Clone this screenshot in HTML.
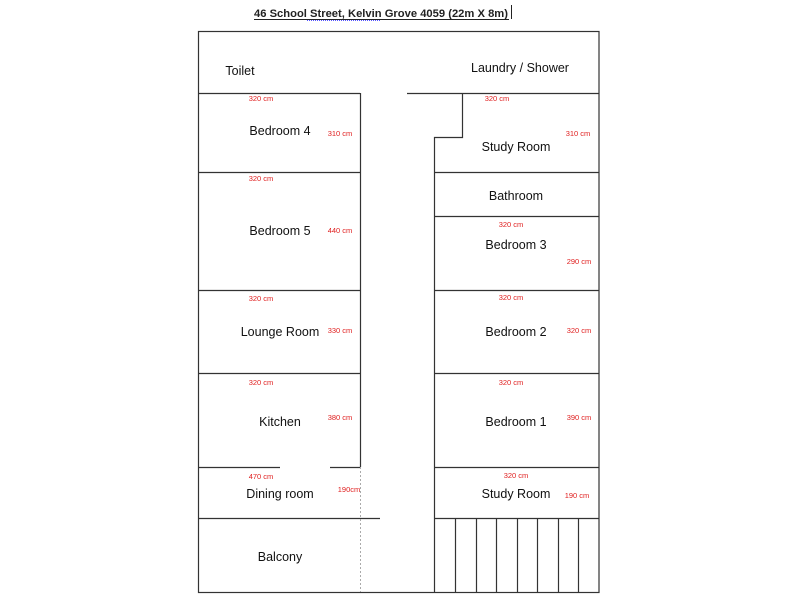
<!DOCTYPE html>
<html><head><style>body{margin:0;background:#fff}svg{display:block}</style></head><body>
<svg width="800" height="600" xmlns="http://www.w3.org/2000/svg" font-family="Liberation Sans, sans-serif">
<rect width="800" height="600" fill="#fff"/>
<text x="254" y="17" font-size="11" font-weight="bold" fill="#222" textLength="254" lengthAdjust="spacingAndGlyphs">46 School Street,  Kelvin Grove 4059  (22m X 8m)</text>
<line x1="254" y1="19.5" x2="509" y2="19.5" stroke="#222" stroke-width="1"/>
<line x1="511.5" y1="5" x2="511.5" y2="19" stroke="#222" stroke-width="1"/>
<line x1="307" y1="20.5" x2="381" y2="20.5" stroke="#55f" stroke-width="1" stroke-dasharray="1,1"/>
<g stroke="#333" stroke-width="1.2" fill="none">
<rect x="198.5" y="31.5" width="400.5" height="561"/>
<line x1="198" y1="93.5" x2="360" y2="93.5"/>
<line x1="360.5" y1="93" x2="360.5" y2="467"/>
<line x1="198" y1="172.5" x2="360" y2="172.5"/>
<line x1="198" y1="290.5" x2="360" y2="290.5"/>
<line x1="198" y1="373.5" x2="360" y2="373.5"/>
<line x1="198" y1="467.5" x2="280" y2="467.5"/>
<line x1="330" y1="467.5" x2="360" y2="467.5"/>
<line x1="198" y1="518.5" x2="380" y2="518.5"/>
<line x1="407" y1="93.5" x2="599" y2="93.5"/>
<polyline points="462.5,93 462.5,137.5 434.5,137.5 434.5,592"/>
<line x1="434" y1="172.5" x2="599" y2="172.5"/>
<line x1="434" y1="216.5" x2="599" y2="216.5"/>
<line x1="434" y1="290.5" x2="599" y2="290.5"/>
<line x1="434" y1="373.5" x2="599" y2="373.5"/>
<line x1="434" y1="467.5" x2="599" y2="467.5"/>
<line x1="434" y1="518.5" x2="599" y2="518.5"/>
<line x1="455.5" y1="518" x2="455.5" y2="592"/>
<line x1="476.5" y1="518" x2="476.5" y2="592"/>
<line x1="496.5" y1="518" x2="496.5" y2="592"/>
<line x1="517.5" y1="518" x2="517.5" y2="592"/>
<line x1="537.5" y1="518" x2="537.5" y2="592"/>
<line x1="558.5" y1="518" x2="558.5" y2="592"/>
<line x1="578.5" y1="518" x2="578.5" y2="592"/>
</g>
<line x1="360.5" y1="467" x2="360.5" y2="592" stroke="#aaa" stroke-width="1" stroke-dasharray="2,2"/>
<g font-size="12.5" fill="#111" text-anchor="middle">
<text x="240" y="75">Toilet</text>
<text x="520" y="72">Laundry / Shower</text>
<text x="280" y="135">Bedroom 4</text>
<text x="516" y="151">Study Room</text>
<text x="516" y="200">Bathroom</text>
<text x="280" y="235">Bedroom 5</text>
<text x="516" y="249">Bedroom 3</text>
<text x="280" y="336">Lounge Room</text>
<text x="516" y="336">Bedroom 2</text>
<text x="280" y="426">Kitchen</text>
<text x="516" y="426">Bedroom 1</text>
<text x="280" y="498">Dining room</text>
<text x="516" y="498">Study Room</text>
<text x="280" y="561">Balcony</text>
</g>
<g font-size="7.5" fill="#e02020" text-anchor="middle">
<text x="261" y="101">320 cm</text>
<text x="497" y="101">320 cm</text>
<text x="340" y="136">310 cm</text>
<text x="578" y="136">310 cm</text>
<text x="261" y="181">320 cm</text>
<text x="340" y="233">440 cm</text>
<text x="511" y="227">320 cm</text>
<text x="579" y="264">290 cm</text>
<text x="261" y="301">320 cm</text>
<text x="511" y="300">320 cm</text>
<text x="340" y="333">330 cm</text>
<text x="579" y="333">320 cm</text>
<text x="261" y="385">320 cm</text>
<text x="511" y="385">320 cm</text>
<text x="340" y="420">380 cm</text>
<text x="579" y="420">390 cm</text>
<text x="261" y="479">470 cm</text>
<text x="516" y="478">320 cm</text>
<text x="349" y="492">190cm</text>
<text x="577" y="498">190 cm</text>
</g>
</svg>
</body></html>
